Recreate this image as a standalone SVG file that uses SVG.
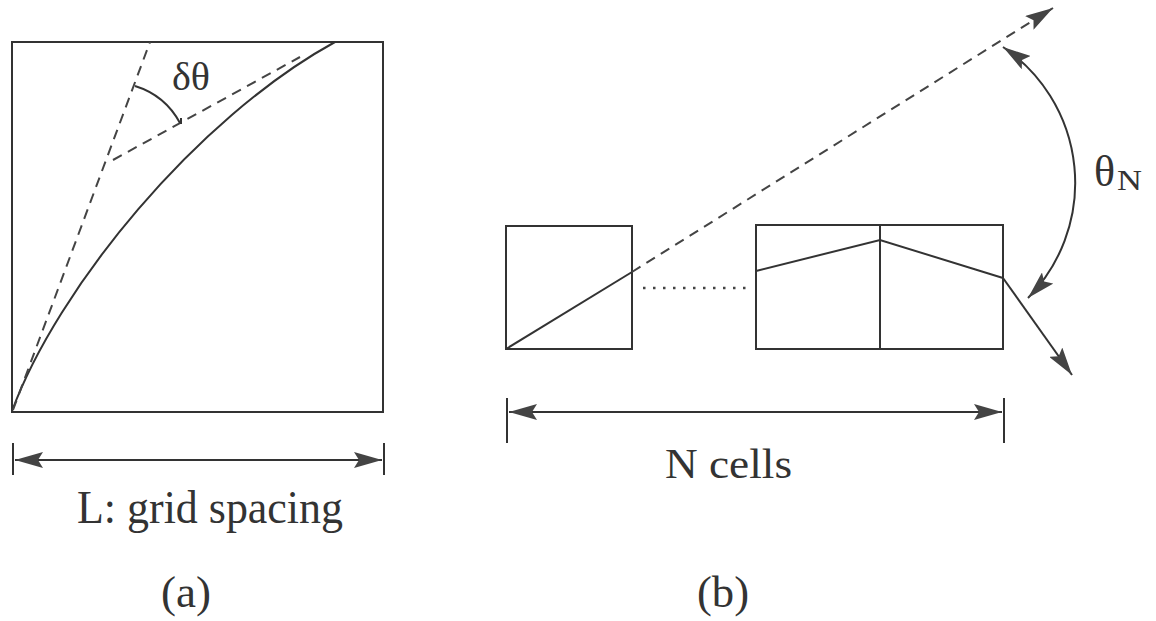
<svg xmlns="http://www.w3.org/2000/svg" width="1156" height="621" viewBox="0 0 1156 621">
<defs>
<marker id="ah" viewBox="0 0 28 16" refX="28" refY="8" markerWidth="28" markerHeight="16" markerUnits="userSpaceOnUse" orient="auto-start-reverse">
<path d="M0,0 L28,8 L0,16 L5,8 Z" fill="#444"/>
</marker>
</defs>
<style>
.ln{fill:none;stroke:#333;stroke-width:2}
.dash{fill:none;stroke:#444;stroke-width:2;stroke-dasharray:10 7}
.dot{fill:none;stroke:#444;stroke-width:2.5;stroke-dasharray:2.5 7.5}
.t{font-family:"Liberation Serif","Times New Roman",serif;fill:#333}
</style>
<rect width="1156" height="621" fill="#fff"/>

<g id="panel-a">
<rect class="ln" x="12" y="42" width="371" height="370"/>
<path class="ln" d="M12,411 C57,289 195,119 335,42"/>
<line class="dash" x1="13" y1="410" x2="150" y2="42"/>
<line class="dash" x1="113" y1="160" x2="300" y2="57"/>
<path class="ln" d="M135,86 A77,77 0 0 1 180,123"/>
<line class="ln" x1="181" y1="118" x2="181" y2="124"/>
<text class="t" x="172" y="90" font-size="40">δθ</text>
</g>

<g id="dim-a">
<line class="ln" x1="13" y1="443" x2="13" y2="475"/>
<line class="ln" x1="384" y1="443" x2="384" y2="475"/>
<line class="ln" x1="15" y1="460" x2="382" y2="460" marker-start="url(#ah)" marker-end="url(#ah)"/>
<text class="t" x="77" y="523" font-size="46" textLength="266" lengthAdjust="spacingAndGlyphs">L: grid spacing</text>
</g>

<g id="cell-first">
<rect class="ln" x="506" y="226" width="126" height="123"/>
</g>
<g id="cells-last">
<rect class="ln" x="756" y="225" width="247" height="124"/>
<line class="ln" x1="880" y1="225" x2="880" y2="349"/>
</g>

<g id="connectors">
<line class="ln" x1="506" y1="349" x2="632" y2="272"/>
<line class="dash" x1="632" y1="272" x2="1053" y2="8" marker-end="url(#ah)"/>
<line class="dot" x1="643" y1="288" x2="748" y2="288"/>
<polyline class="ln" points="756,271 880,240 1003,278"/>
<line class="ln" x1="1003" y1="278" x2="1072" y2="375" marker-end="url(#ah)"/>
<path class="ln" d="M1003,47 A164,164 0 0 1 1028,298" marker-start="url(#ah)" marker-end="url(#ah)"/>
</g>

<g id="label-theta">
<text class="t" x="1094" y="186" font-size="44">θ</text>
<text class="t" x="1117" y="190" font-size="30" textLength="25" lengthAdjust="spacingAndGlyphs">N</text>
</g>

<g id="dim-b">
<line class="ln" x1="507" y1="398" x2="507" y2="443"/>
<line class="ln" x1="1004" y1="398" x2="1004" y2="443"/>
<line class="ln" x1="509" y1="412" x2="1002" y2="412" marker-start="url(#ah)" marker-end="url(#ah)"/>
<text class="t" x="665" y="478" font-size="42" textLength="127" lengthAdjust="spacingAndGlyphs">N cells</text>
</g>

<text class="t" x="161" y="607" font-size="44" textLength="50" lengthAdjust="spacingAndGlyphs">(a)</text>
<text class="t" x="697" y="607" font-size="44" textLength="52" lengthAdjust="spacingAndGlyphs">(b)</text>
</svg>
